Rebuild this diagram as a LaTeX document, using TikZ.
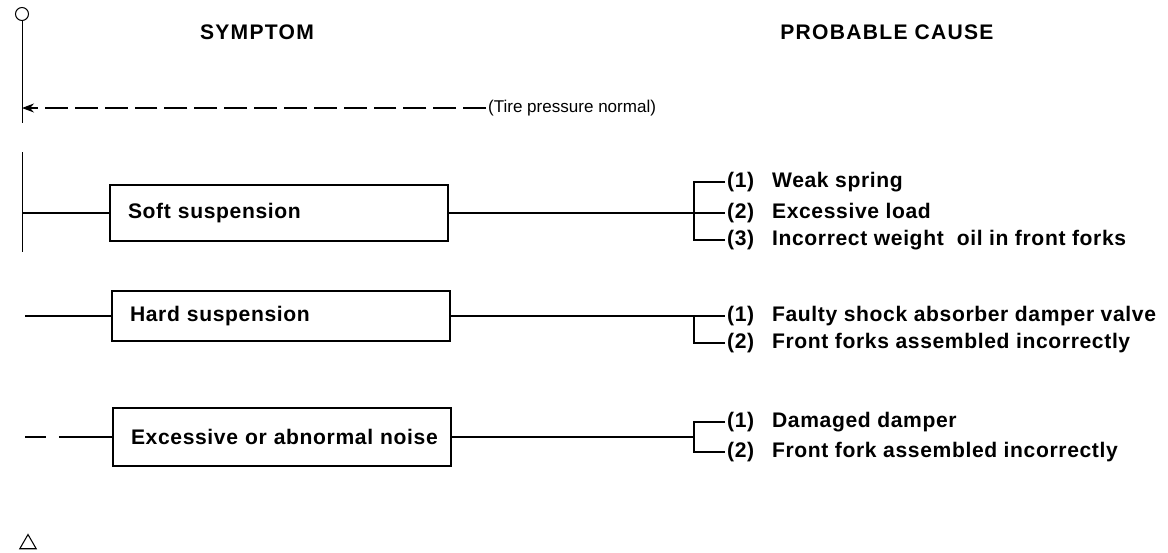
\documentclass[tikz,border=0pt]{standalone}
\usepackage{fontspec}
\setmainfont{Liberation Sans}
\usepackage{tikz}
\usetikzlibrary{arrows.meta,positioning,shapes.geometric}
\tikzset{
  ln/.style={line width=0.6pt},
  sp/.style={line width=0.4pt},
  txt/.style={font=\fontsize{12}{14}\selectfont\bfseries\addfontfeature{LetterSpace=3}},
  box/.style={draw,line width=0.8pt,text width=6.2cm,inner xsep=0.28cm,align=left,txt},
  cause/.style={anchor=west,inner sep=1pt,txt},
  head/.style={font=\fontsize{12}{14}\selectfont\bfseries\addfontfeature{LetterSpace=6}},
  dsh/.style={line width=0.6pt,dash pattern=on 13pt off 4pt},
  ar/.style={-{Stealth[length=2.4mm,width=1.8mm]}}
}
\newcommand{\num}[1]{\makebox[0.9cm][l]{(#1)}}

\begin{document}
\begin{tikzpicture}[x=0.02cm,y=-0.02cm]
\useasboundingbox (0,0) rectangle (1168,552);
\node[head] (symp) at (257,32) {SYMPTOM};
\node[head] (prob) at (887,32) {PROBABLE CAUSE};
\node[draw,ln,circle,inner sep=0pt,minimum size=0.26cm] (top) at (22,14) {};
\node[draw,ln,regular polygon,regular polygon sides=3,inner sep=0pt,minimum size=0.38cm] (tri) at (28,544) {};
% spine
\coordinate (tp) at (22,108);
\coordinate (s0) at (22,213);
\draw[sp] (top.south) -- (22,123);
\draw[sp] (22,152) -- (22,252);
\node[anchor=west,inner sep=1pt,font=\fontsize{9.7}{12}\selectfont] (tire) at (486,108) {(Tire pressure normal)};
\draw[dsh,ar] (tire.west) -- (tp);
% symptoms
\node[box,minimum height=1.12cm] (soft) at (279,213) {\hspace{0.08cm}Soft suspension};
\node[box,minimum height=1.0cm] (hard) at (281,316) {\hspace{0.08cm}Hard suspension};
\node[box,minimum height=1.16cm] (noise) at (282,437) {\hspace{0.08cm}Excessive or abnormal noise};
\coordinate (h0) at (25,316);
\coordinate (n0) at (25,437);
\draw[ln] (s0) -- (soft.west);
\draw[ln] (h0) -- (hard.west);
\draw[ln,dash pattern=on 0.42cm off 0.26cm on 2cm] (n0) -- (noise.west);
% causes
\node[cause] (c11) at (725,182) {\num{1}Weak spring};
\node[cause] (c12) at (725,213) {\num{2}Excessive load};
\node[cause] (c13) at (725,240) {\num{3}Incorrect weight\ \ oil in front forks};
\node[cause] (c21) at (725,316) {\num{1}Faulty shock absorber damper valve};
\node[cause] (c22) at (725,343) {\num{2}Front forks assembled incorrectly};
\node[cause] (c31) at (725,422) {\num{1}Damaged damper};
\node[cause] (c32) at (725,452) {\num{2}Front fork assembled incorrectly};
\draw[ln] (soft.east) -- (c12.west);
\draw[ln] (c11.west) -| ([xshift=-0.62cm]c13.west) -- (c13.west);
\draw[ln] (hard.east) -- (c21.west);
\draw[ln] (c22.west) -| ([xshift=-0.62cm]c21.west);
\draw[ln] (noise.east) -- ([xshift=-0.62cm]c31.west |- noise.east);
\draw[ln] (c31.west) -| ([xshift=-0.62cm]c32.west) -- (c32.west);
\end{tikzpicture}
\end{document}
